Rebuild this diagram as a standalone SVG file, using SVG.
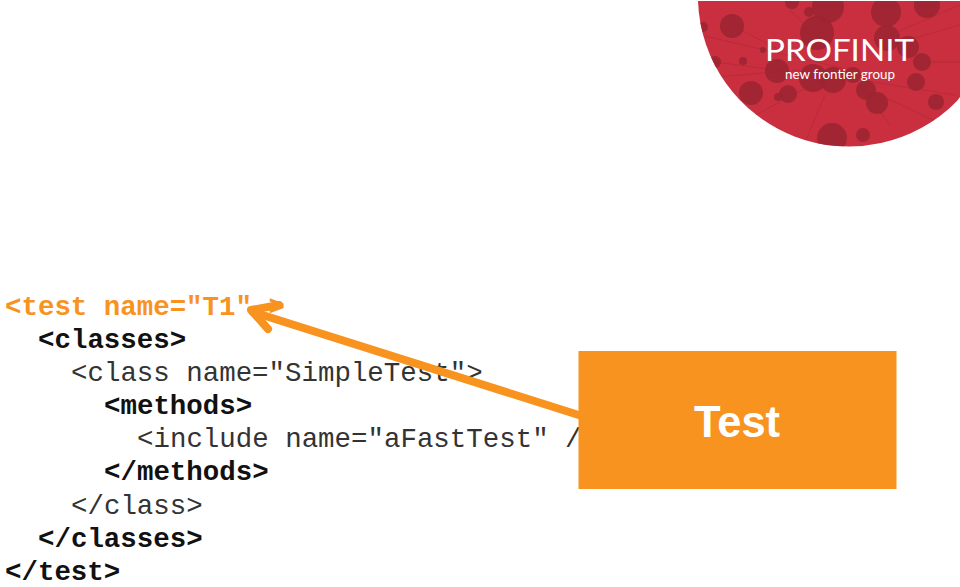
<svg xmlns="http://www.w3.org/2000/svg" width="960" height="587" viewBox="0 0 960 587">
<style>
.c{font-family:"Liberation Mono","Courier New",monospace;font-size:27.45px;fill:#333;white-space:pre}
.b{font-weight:700;fill:#111}
.o{font-weight:700;fill:#F7931E}
.d{fill:#9c2531;opacity:.9}
.l{stroke:#9c2531;stroke-width:.6;fill:none;opacity:.6}
</style>
<defs><clipPath id="logoClip"><path d="M698 1H960V97L957 101A151 151 0 0 1 698 1Z"/></clipPath></defs>
<rect width="960" height="587" fill="#fff"/>
<g id="logo">
<g clip-path="url(#logoClip)">
<rect x="690" y="0" width="270" height="150" fill="#c92f3f"/>
<path class="l" d="M705 36L850 70M700 60L790 72M705 78L800 70M750 118L830 75M806 140L825 95M880 95L950 128M860 80L955 95M925 62L960 62M890 45L960 25M890 35L960 5M785 5L810 30M860 85L890 125M735 27L780 50"/>
<circle class="d" cx="732" cy="26" r="12"/><circle class="d" cx="792" cy="2" r="7"/><circle class="d" cx="828" cy="7" r="16"/>
<circle class="d" cx="809" cy="12" r="5"/><circle class="d" cx="886" cy="12" r="15"/><circle class="d" cx="927" cy="5" r="13"/>
<circle class="d" cx="817" cy="33" r="17"/><circle class="d" cx="887" cy="38" r="13"/><circle class="d" cx="908" cy="47" r="11"/>
<circle class="d" cx="922" cy="62" r="9"/><circle class="d" cx="777" cy="71" r="12"/><circle class="d" cx="763" cy="50" r="3"/>
<circle class="d" cx="715" cy="62" r="6"/><circle class="d" cx="743" cy="61" r="4"/><circle class="d" cx="751" cy="93" r="12"/>
<circle class="d" cx="788" cy="94" r="9"/><circle class="d" cx="778" cy="97" r="4"/><circle class="d" cx="813" cy="78" r="14"/>
<circle class="d" cx="833" cy="80" r="13"/><circle class="d" cx="853" cy="75" r="8"/><circle class="d" cx="866" cy="90" r="10"/>
<circle class="d" cx="877" cy="103" r="11"/><circle class="d" cx="916" cy="82" r="9"/><circle class="d" cx="936" cy="102" r="8"/>
<circle class="d" cx="832" cy="138" r="15"/><circle class="d" cx="863" cy="135" r="7"/><circle class="d" cx="703" cy="27" r="5"/>
</g>
<text x="765" y="61" font-family="Lato,'Noto Sans',sans-serif" font-weight="400" font-size="30" fill="#fff" textLength="149" lengthAdjust="spacingAndGlyphs">PROFINIT</text>
<text x="785" y="79" font-family="Lato,'Noto Sans',sans-serif" font-weight="400" font-size="13.5" fill="#fff" textLength="110" lengthAdjust="spacingAndGlyphs">new frontier group</text>
</g>
<g id="code">
<text class="c o" x="5" y="315">&lt;test name="T1" &gt;</text>
<text class="c b" x="38" y="348">&lt;classes&gt;</text>
<text class="c" x="71" y="381">&lt;class name="SimpleTest"&gt;</text>
<text class="c b" x="104" y="414">&lt;methods&gt;</text>
<text class="c" x="137" y="447">&lt;include name="aFastTest" /&gt;</text>
<text class="c b" x="104" y="480">&lt;/methods&gt;</text>
<text class="c" x="71" y="514">&lt;/class&gt;</text>
<text class="c b" x="38" y="547">&lt;/classes&gt;</text>
<text class="c b" x="5" y="580">&lt;/test&gt;</text>
</g>
<g id="connectors" fill="none" stroke="#F7931E" stroke-width="8" stroke-linecap="round" stroke-linejoin="round">
<path d="M585 417L253 312"/>
<path d="M279 305L251 310L268 329"/>
</g>
<g id="test-node">
<rect x="578.5" y="351" width="318" height="138" fill="#F7931E"/>
<text x="737" y="437" text-anchor="middle" font-family="'Liberation Sans',Arial,sans-serif" font-weight="700" font-size="43.5" fill="#fff">Test</text>
</g>
</svg>
